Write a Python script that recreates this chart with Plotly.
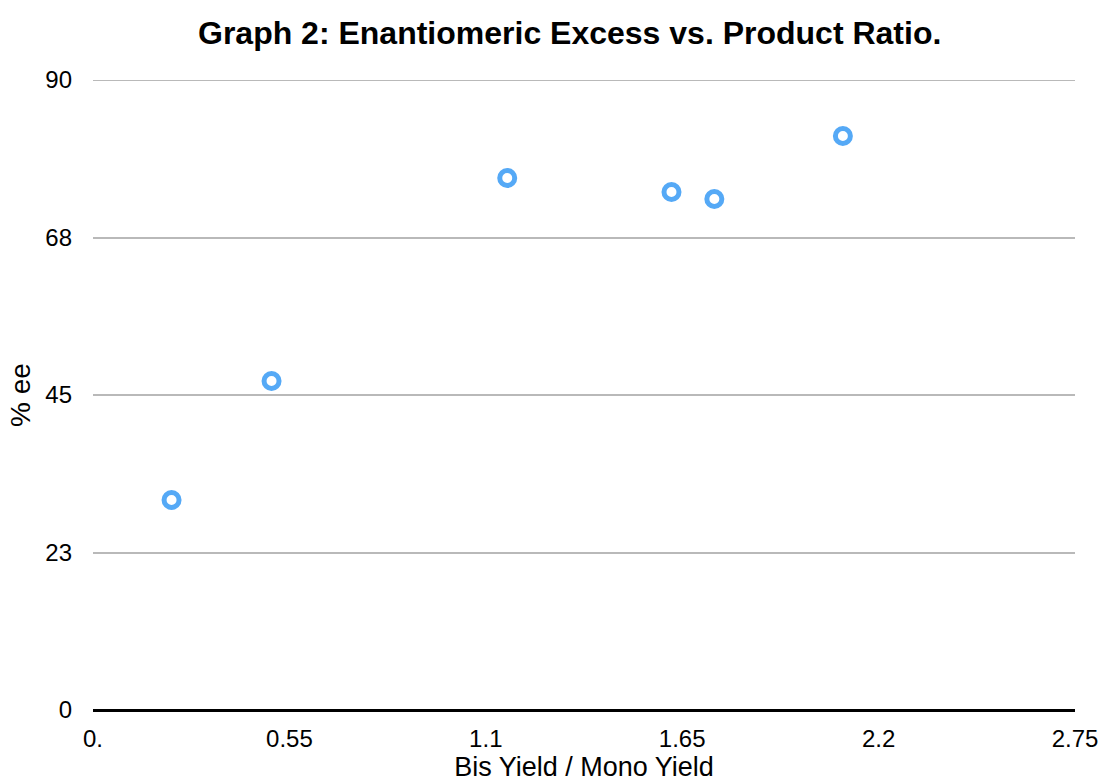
import plotly.graph_objects as go

# Bis/mono product ratio vs enantiomeric excess
ratio = [0.22, 0.50, 1.16, 1.62, 1.74, 2.10]
ee = [30.0, 47.0, 76.0, 74.0, 73.0, 82.0]

x_ticks = [0, 0.55, 1.1, 1.65, 2.2, 2.75]
x_labels = ["0.", "0.55", "1.1", "1.65", "2.2", "2.75"]
y_ticks = [0, 22.5, 45, 67.5, 90]
y_labels = ["0", "23", "45", "68", "90"]

font = "Liberation Sans, Arial, Helvetica, sans-serif"
grid_color = "#b9b9b9"

fig = go.Figure()

fig.add_trace(go.Scatter(
    x=ratio,
    y=ee,
    mode="markers",
    marker=dict(size=15, color="white", line=dict(color="#55a9f6", width=5)),
    showlegend=False,
    cliponaxis=False
))

# top gridline sits on the plot edge, plotly skips it, so draw it
fig.add_shape(
    type="line", xref="paper", x0=0, x1=1, yref="y",
    y0=y_ticks[-1], y1=y_ticks[-1],
    line=dict(color=grid_color, width=2), layer="below"
)

fig.update_layout(
    width=1104,
    height=783,
    paper_bgcolor="white",
    plot_bgcolor="white",
    margin=dict(l=93, r=29, t=80, b=73),
    title=dict(
        text="<b>Graph 2: Enantiomeric Excess vs. Product Ratio.</b>",
        x=0.516, xanchor="center", y=0.958, yanchor="middle",
        font=dict(family=font, size=32, color="black")
    ),
    font=dict(family=font, size=24, color="black"),
    xaxis=dict(
        range=[0, 2.75],
        tickvals=x_ticks,
        ticktext=x_labels,
        showgrid=False,
        zeroline=False,
        showline=False,
        ticks="",
        ticklabelstandoff=12,
        automargin=False,
        title=dict(text="Bis Yield / Mono Yield", font=dict(size=27), standoff=4),
        fixedrange=True
    ),
    yaxis=dict(
        range=[0, 90],
        tickvals=y_ticks,
        ticktext=y_labels,
        showgrid=True,
        gridcolor=grid_color,
        gridwidth=2,
        zeroline=True,
        zerolinecolor="black",
        zerolinewidth=3,
        showline=False,
        ticks="",
        ticklabelstandoff=20,
        automargin=False,
        title=dict(text="% ee", font=dict(size=28), standoff=6),
        fixedrange=True
    )
)

fig.write_html(
    "out.html",
    config={"displayModeBar": False},
    post_script="document.body.style.margin='0';"
)
